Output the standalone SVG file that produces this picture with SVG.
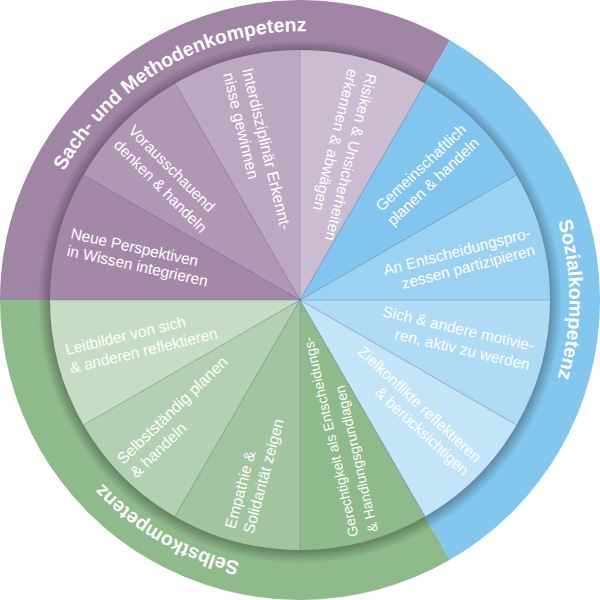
<svg xmlns="http://www.w3.org/2000/svg" xmlns:xlink="http://www.w3.org/1999/xlink" width="600" height="600" viewBox="0 0 600 600">
<style>
.lbl{font-family:"Liberation Sans",Arial,sans-serif;font-size:15.4px;fill:#fff}
.ring{font-family:"Liberation Sans",Arial,sans-serif;font-size:19.5px;font-weight:bold;fill:#fff}
.sep{stroke:#5d6d8e;stroke-opacity:0.45;stroke-width:0.7;fill:none}
</style>
<defs>
<radialGradient id="sh" cx="300" cy="301.5" r="262" gradientUnits="userSpaceOnUse">
<stop offset="0.954" stop-color="#000" stop-opacity="0.28"/>
<stop offset="1" stop-color="#000" stop-opacity="0"/>
</radialGradient>
<path id="ringPath" d="M434,532.09 A268,268 0 1,1 166,67.91 A268,268 0 1,1 434,532.09"/>
</defs>
<g id="ring-sach"><path d="M300,300 L0,300 A300,300 0 0,1 450,40.19 Z" fill="#a085a5"/></g>
<g id="ring-sozial"><path d="M300,300 L450,40.19 A300,300 0 0,1 450,559.81 Z" fill="#83c6ee"/></g>
<g id="ring-selbst"><path d="M300,300 L450,559.81 A300,300 0 0,1 0,300 Z" fill="#8fba8c"/></g>
<circle cx="300" cy="301.5" r="262" fill="url(#sh)"/>
<g id="ring-labels">
<text class="ring" text-anchor="middle"><textPath xlink:href="#ringPath" startOffset="50%">Sach- und Methodenkompetenz</textPath></text>
<text class="ring" text-anchor="middle"><textPath xlink:href="#ringPath" startOffset="83.333%">Sozialkompetenz</textPath></text>
<text class="ring" text-anchor="middle"><textPath xlink:href="#ringPath" startOffset="16.667%">Selbstkompetenz</textPath></text>
</g>
<g id="w-risiken"><path d="M300,300 L300,50 A250,250 0 0,1 425,83.49 Z" fill="#cbbcd1"/>
<text class="lbl" transform="translate(366.5,72.5) rotate(104)"><tspan x="0" y="0">Risiken &amp; Unsicherheiten</tspan><tspan x="0" y="19">erkennen &amp; abwägen</tspan></text></g>
<g id="w-gemeinschaftlich"><path d="M300,300 L425,83.49 A250,250 0 0,1 516.51,175 Z" fill="#82c5ee"/>
<text class="lbl" text-anchor="end" transform="translate(467.3,130.7) rotate(-43.5)"><tspan x="0" y="0">Gemeinschaftlich</tspan><tspan x="0" y="18.5">planen &amp; handeln</tspan></text></g>
<g id="w-partizipieren"><path d="M300,300 L516.51,175 A250,250 0 0,1 550,300 Z" fill="#9cd2f1"/>
<text class="lbl" text-anchor="end" transform="translate(531.5,237.7) rotate(-14.5)"><tspan x="0" y="0">An Entscheidungspro-</tspan><tspan x="0" y="17.5">zessen partizipieren</tspan></text></g>
<g id="w-motivieren"><path d="M300,300 L550,300 A250,250 0 0,1 516.51,425 Z" fill="#b0dbf4"/>
<text class="lbl" text-anchor="end" transform="translate(532.7,351) rotate(13)"><tspan x="0" y="0">Sich &amp; andere motivie-</tspan><tspan x="0" y="19.5">ren, aktiv zu werden</tspan></text></g>
<g id="w-zielkonflikte"><path d="M300,300 L516.51,425 A250,250 0 0,1 425,516.51 Z" fill="#c4e4f7"/>
<text class="lbl" text-anchor="end" transform="translate(475,463.3) rotate(43)"><tspan x="0" y="0">Zielkonflikte reflektieren</tspan><tspan x="0" y="18">&amp; berücksichtigen</tspan></text></g>
<g id="w-gerechtigkeit"><path d="M300,300 L425,516.51 A250,250 0 0,1 300,550 Z" fill="#8fba8c"/>
<text class="lbl" style="font-size:14px" transform="translate(358.5,535.5) rotate(-103)"><tspan x="0" y="0">Gerechtigkeit als Entscheidungs-</tspan><tspan x="0" y="20">&amp; Handlungsgrundlagen</tspan></text></g>
<g id="w-empathie"><path d="M300,300 L300,550 A250,250 0 0,1 175,516.51 Z" fill="#a2c5a0"/>
<text class="lbl" transform="translate(235,529.5) rotate(-75)"><tspan x="0" y="0">Empathie &amp;</tspan><tspan x="0" y="19">Solidarität zeigen</tspan></text></g>
<g id="w-selbststaendig"><path d="M300,300 L175,516.51 A250,250 0 0,1 83.49,425 Z" fill="#b4d0b2"/>
<text class="lbl" style="font-size:15.8px" transform="translate(123.3,465) rotate(-44)"><tspan x="0" y="0">Selbstständig planen</tspan><tspan x="0" y="19">&amp; handeln</tspan></text></g>
<g id="w-leitbilder"><path d="M300,300 L83.49,425 A250,250 0 0,1 50,300 Z" fill="#c7dcc5"/>
<text class="lbl" transform="translate(66.7,355) rotate(-13.5)"><tspan x="0" y="0">Leitbilder von sich</tspan><tspan x="0" y="19">&amp; anderen reflektieren</tspan></text></g>
<g id="w-perspektiven"><path d="M300,300 L50,300 A250,250 0 0,1 83.49,175 Z" fill="#a388a8"/>
<text class="lbl" transform="translate(70,238.3) rotate(12.5)"><tspan x="0" y="0">Neue Perspektiven</tspan><tspan x="0" y="17.5">in Wissen integrieren</tspan></text></g>
<g id="w-vorausschauend"><path d="M300,300 L83.49,175 A250,250 0 0,1 175,83.49 Z" fill="#b098b4"/>
<text class="lbl" transform="translate(127.4,131.6) rotate(45)"><tspan x="0" y="0">Vorausschauend</tspan><tspan x="0" y="20.5">denken &amp; handeln</tspan></text></g>
<g id="w-interdisziplinaer"><path d="M300,300 L175,83.49 A250,250 0 0,1 300,50 Z" fill="#bda8c2"/>
<text class="lbl" style="font-size:15.8px" transform="translate(242,69.5) rotate(76.5)"><tspan x="0" y="0">Interdisziplinär Erkennt-</tspan><tspan x="0" y="19.5">nisse gewinnen</tspan></text></g>
<g id="connectors">
<path class="sep" d="M300,300 L300,50 M300,300 L425,83.49 M300,300 L516.51,175 M300,300 L550,300 M300,300 L516.51,425 M300,300 L425,516.51 M300,300 L300,550 M300,300 L175,516.51 M300,300 L83.49,425 M300,300 L50,300 M300,300 L83.49,175 M300,300 L175,83.49"/>
</g>
</svg>
